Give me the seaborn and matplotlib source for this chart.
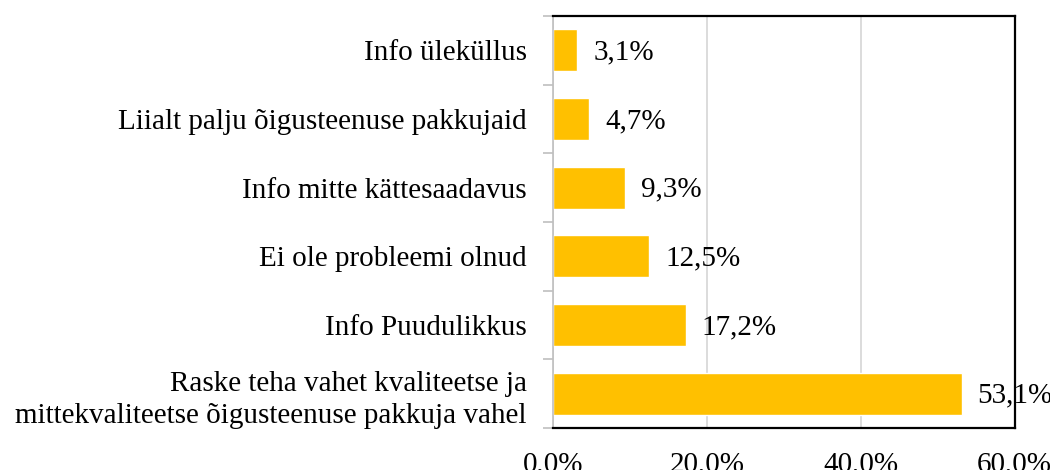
import numpy as np
import pandas as pd
import matplotlib
matplotlib.use("Agg")
import matplotlib.pyplot as plt
import seaborn as sns
from matplotlib.ticker import FixedLocator

categories = ["Info üleküllus",
              "Liialt palju õigusteenuse pakkujaid",
              "Info mitte kättesaadavus",
              "Ei ole probleemi olnud",
              "Info Puudulikkus",
              "Raske teha vahet kvaliteetse ja\nmittekvaliteetse õigusteenuse pakkuja vahel"]
values = [3.1, 4.7, 9.3, 12.5, 17.2, 53.1]
value_labels = ["3,1%", "4,7%", "9,3%", "12,5%", "17,2%", "53,1%"]
x_ticks = [0, 20, 40, 60]
x_tick_labels = ["0,0%", "20,0%", "40,0%", "60,0%"]


def main():
    sns.set_style("white")
    plt.rcParams["font.family"] = ["Liberation Serif", "DejaVu Serif"]
    plt.rcParams["text.color"] = "black"
    plt.rcParams["xtick.color"] = "black"
    plt.rcParams["ytick.color"] = "black"

    df = pd.DataFrame({"category": categories, "value": values})

    fig = plt.figure(figsize=(10.5, 4.7), dpi=100)
    ax = fig.add_axes([0.527, 0.0894, 0.4394, 0.8766])
    sns.barplot(data=df, x="value", y="category", color="#FFC000",
                saturation=1, width=0.61, ax=ax)

    ax.set_xlim(0, 60)
    ax.set_ylim(len(categories) - 0.5, -0.5)
    ax.set_xlabel("")
    ax.set_ylabel("")

    # gridlines
    ax.set_xticks(x_ticks)
    ax.set_xticklabels(x_tick_labels, fontsize=21)
    ax.xaxis.grid(True, color="#d9d9d9", linewidth=1.3)
    ax.set_axisbelow(True)
    ax.tick_params(axis="x", length=0, pad=17)

    # category labels, tick marks between categories
    ax.tick_params(axis="y", which="major", length=0, pad=19, labelsize=21)
    ax.yaxis.set_minor_locator(FixedLocator(np.arange(-0.5, len(categories), 1)))
    ax.tick_params(axis="y", which="minor", length=7, width=1.2,
                   color="#bfbfbf", left=True)
    for lbl in ax.get_yticklabels():
        lbl.set_linespacing(1.3)
        lbl.set_color("black")

    for side in ["top", "right", "bottom"]:
        ax.spines[side].set_color("black")
        ax.spines[side].set_linewidth(1.6)
    ax.spines["left"].set_color("#bfbfbf")
    ax.spines["left"].set_linewidth(1.2)

    # value labels
    for i, (v, txt) in enumerate(zip(values, value_labels)):
        ax.annotate(txt, xy=(v, i), xytext=(11.5, -1.5),
                    textcoords="offset points", va="center", ha="left",
                    fontsize=21, color="black", clip_on=False)

    fig.savefig("out.png", dpi=100)


if __name__ == "__main__":
    main()
